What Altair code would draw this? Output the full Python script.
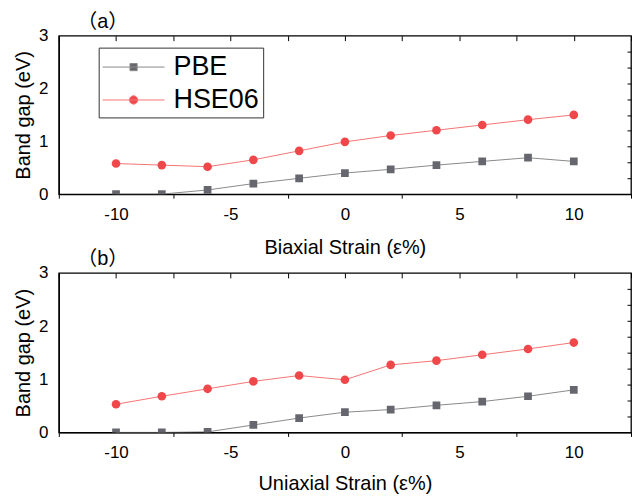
import altair as alt
import pandas as pd

# ---- data ----
strain = [-10, -8, -6, -4, -2, 0, 2, 4, 6, 8, 10]
pbe_biaxial = [0.0, 0.0, 0.08, 0.20, 0.30, 0.40, 0.47, 0.55, 0.62, 0.69, 0.62]
hse_biaxial = [0.58, 0.55, 0.52, 0.65, 0.82, 0.99, 1.11, 1.21, 1.31, 1.41, 1.50]
pbe_uniaxial = [0.0, 0.0, 0.01, 0.14, 0.27, 0.38, 0.43, 0.51, 0.58, 0.68, 0.80]
hse_uniaxial = [0.53, 0.68, 0.82, 0.96, 1.07, 0.99, 1.27, 1.35, 1.46, 1.57, 1.69]
series_names = ["PBE", "HSE06"]
x_tick_values = [-12.5, -10, -7.5, -5, -2.5, 0, 2.5, 5, 7.5, 10, 12.5]
y_label_values = [0, 1, 2, 3]
y_minor_values = [0.3, 0.6, 0.9, 1.2, 1.5, 1.8, 2.1, 2.4, 2.7]

marker_colors = ["#66666e", "#f0474a"]
line_colors = ["#8a8a8a", "#f47474"]
FONT = "Liberation Sans, Arial, Noto Sans CJK SC"

# legend symbols: a line with the marker on it (custom SVG paths)
symbol_paths = [
    "M-2.07,0H2.07M-0.24,-0.24H0.24V0.24H-0.24Z",
    "M-2.07,0H2.07M0.28,0A0.28,0.28,0,1,1,-0.28,0A0.28,0.28,0,1,1,0.28,0Z",
]

W = 574


def panel(pbe, hse, xtitle, ptitle, height, lx, ly, xtitle_pad):
    df = pd.DataFrame({
        "strain": strain + strain,
        "gap": pbe + hse,
        "series": ["PBE"] * len(strain) + ["HSE06"] * len(strain),
    })
    base = alt.Chart(df)
    xs = alt.Scale(domain=[-12.5, 12.5], nice=False, zero=False)
    ys = alt.Scale(domain=[0, 3], nice=False, zero=False)

    main_x = alt.X("strain:Q", scale=xs, axis=alt.Axis(
        values=x_tick_values,
        labelExpr="datum.value % 5 == 0 && abs(datum.value) < 12 ? '' + datum.value : ''",
        tickSize=4,
        tickColor={"condition": {"test": "datum.value % 5 == 0", "value": "transparent"}, "value": "#000"},
        domain=True, domainColor="#000", domainWidth=1.3, grid=False, labelPadding=8, labelFontSize=17,
        title=xtitle, titleFontSize=20, titlePadding=xtitle_pad, orient="bottom"))
    main_y = alt.Y("gap:Q", scale=ys, axis=alt.Axis(
        values=y_label_values, format="d", ticks=False, domain=True, domainColor="#000",
        domainWidth=1.3, grid=False,
        labelPadding=11, labelFontSize=17, title="Band gap (eV)", titleFontSize=20,
        titlePadding=5, orient="left"))
    inner_x = alt.X("strain:Q", scale=xs, axis=alt.Axis(
        values=x_tick_values, labels=False, domain=False, grid=False, tickSize=5,
        offset=-5, orient="top", title=None, tickColor="#000"))
    inner_y = alt.Y("gap:Q", scale=ys, axis=alt.Axis(
        values=y_minor_values, labels=False, domain=False, grid=False, tickSize=4,
        offset=-4, orient="right", title=None, tickColor="#000"))
    nx = alt.X("strain:Q", scale=xs, axis=None)
    ny = alt.Y("gap:Q", scale=ys, axis=None)

    line_pbe = base.transform_filter("datum.series == 'PBE'").mark_line(
        color=line_colors[0], strokeWidth=1, clip=True).encode(x=main_x, y=main_y)
    line_hse = base.transform_filter("datum.series == 'HSE06'").mark_line(
        color=line_colors[1], strokeWidth=1, clip=True).encode(x=inner_x, y=inner_y)
    pts_pbe = base.transform_filter("datum.series == 'PBE'").mark_point(
        shape="square", filled=True, size=60, opacity=1, color=marker_colors[0], clip=True
    ).encode(x=nx, y=ny)
    pts_hse = base.transform_filter("datum.series == 'HSE06'").mark_point(
        shape="circle", filled=True, size=75, opacity=1, color=marker_colors[1], clip=True
    ).encode(x=nx, y=ny)

    leg = alt.Legend(
        title=None, orient="none", legendX=lx, legendY=ly, symbolSize=900,
        labelFontSize=27, labelFont=FONT, labelColor="#000", padding=4, rowPadding=4,
        strokeColor="#333", fillColor="#fff", symbolStrokeWidth=1, labelOffset=24.5,
        symbolOffset=15.5, cornerRadius=0)
    legend_layer = base.transform_filter("datum.gap > 100").mark_point(
        filled=True, opacity=1, strokeWidth=1).encode(
        x=nx, y=ny,
        shape=alt.Shape("series:N", scale=alt.Scale(domain=series_names, range=symbol_paths), legend=leg),
        fill=alt.Fill("series:N", scale=alt.Scale(domain=series_names, range=marker_colors), legend=leg),
        stroke=alt.Stroke("series:N", scale=alt.Scale(domain=series_names, range=line_colors), legend=leg),
    )

    return alt.layer(line_pbe, line_hse, pts_pbe, pts_hse, legend_layer).resolve_axis(
        x="independent", y="independent").properties(
        width=W, height=height,
        title=alt.TitleParams(ptitle, anchor="start", fontSize=20, fontWeight="normal",
                              font=FONT, dx=64, offset=-5, color="#000"))


top = panel(pbe_biaxial, hse_biaxial, "Biaxial Strain (\u03b5%)", "\uff08a\uff09", 159, 40, 12, 16)
bottom = panel(pbe_uniaxial, hse_uniaxial, "Uniaxial Strain (\u03b5%)", "\uff08b\uff09", 160, 45, 21, 13)

chart = alt.vconcat(top, bottom, spacing=-11).properties(
    padding={"left": 12, "top": 10, "right": 0, "bottom": 0}
).configure(font=FONT).configure_axis(
    labelFont=FONT, titleFont=FONT, labelColor="#000", titleColor="#000",
    titleFontWeight="normal"
).configure_view(stroke="#000", strokeWidth=1.3)

chart.save("out.html", embed_options={"renderer": "svg", "actions": False})
